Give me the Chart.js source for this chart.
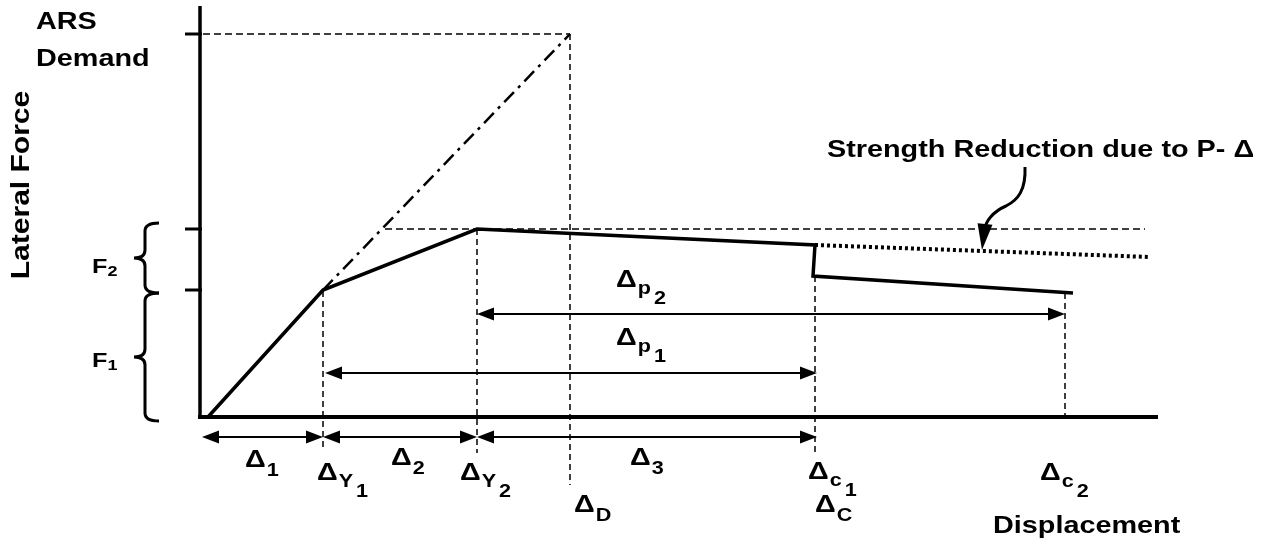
<!DOCTYPE html>
<html>
<head>
<meta charset="utf-8">
<script src="https://cdn.jsdelivr.net/npm/chart.js@4.4.1/dist/chart.umd.min.js"></script>
<style>
  html, body { margin: 0; padding: 0; background: #fff; }
  canvas { display: block; }
</style>
</head>
<body>
<canvas id="chart" width="1278" height="543"></canvas>
<script>
// Кривая несущей способности (перемещение / усилие, условные единицы)
const capacityX = [0.8, 12.3, 27.7, 61.5, 61.3, 87.3];
const capacityF = [0, 12.7, 18.8, 17.2, 14.1, 12.4];

// Снижение прочности из-за P-Δ (пунктир)
const pDeltaX = [61.5, 95.0];
const pDeltaF = [17.2, 16.0];

// Упругий отклик (штрихпунктир) до ARS demand
const elasticX = [12.3, 37.0];
const elasticF = [12.7, 38.3];

// Характерные перемещения
const markNames = ['ΔY1', 'ΔY2', 'ΔD', 'Δc1', 'Δc2'];
const markX = [12.3, 27.7, 37.0, 61.5, 86.5];
const markTop = [12.6, 18.8, 38.3, 14.1, 12.4];
const markBottom = [-3.3, -3.6, -6.8, -3.6, 0.2];

// Уровни усилий на оси
const forceTicks = [12.7, 18.8, 38.3];
const demandF = 38.3;
const f2Level = 18.8;

// Размерные стрелки: [от, до, уровень]
const spanArrows = [
   [0.2, 12.3, -2.0],
   [12.3, 27.7, -2.0],
   [27.7, 61.7, -2.0],
   [12.5, 61.7, 4.4],
   [27.7, 86.5, 10.3]
];

// Фигурные скобки F1 / F2: [низ, верх]
const braces = [[-0.4, 12.4], [12.4, 19.4]];

// Подписи
const deltaLabels = [
   { sub: '1', x: 4.5, y: -5.0 },
   { sub: 'Y', sub2: '1', x: 11.7, y: -6.3 },
   { sub: '2', x: 19.1, y: -4.8 },
   { sub: 'Y', sub2: '2', x: 26.0, y: -6.3 },
   { sub: 'D', x: 37.4, y: -9.5 },
   { sub: '3', x: 43.0, y: -4.8 },
   { sub: 'c', sub2: '1', x: 60.8, y: -6.2 },
   { sub: 'C', x: 61.5, y: -9.5 },
   { sub: 'c', sub2: '2', x: 84.0, y: -6.3 },
   { sub: 'p', sub2: '2', x: 41.6, y: 13.0 },
   { sub: 'p', sub2: '1', x: 41.6, y: 7.2 }
];
const textLabels = [
   { t: 'ARS', x: -16.4, y: 38.8 },
   { t: 'Demand', x: -16.4, y: 35.1 },
   { t: 'Displacement', x: 79.3, y: -11.6 },
   { t: 'Strength Reduction due to P- Δ', x: 62.7, y: 26.0 }
];
const forceLabels = [
   { t: 'F', sub: '2', x: -10.8, y: 14.4 },
   { t: 'F', sub: '1', x: -10.8, y: 5.0 }
];
// Изогнутая стрелка к пунктиру
const curlX = [82.5, 82.6, 81.8, 80.6, 79.2, 78.6, 78.5, 78.2];
const curlY = [25.0, 22.7, 21.7, 21.1, 20.5, 19.5, 18.9, 16.7];

const FONT = '"Liberation Sans", Arial, sans-serif';
const STRETCH = 1.2;

function pts(xs, ys) {
   return xs.map((x, i) => ({ x: x, y: ys[i] }));
}

function line(data, width, dash) {
   return {
      data: data,
      showLine: true,
      borderColor: '#000',
      borderWidth: width,
      borderDash: dash || [],
      pointRadius: 0,
      fill: false,
      clip: false,
      tension: 0
   };
}

const datasets = [];
// оси
datasets.push(line([{ x: -0.2, y: 0 }, { x: 95.8, y: 0 }], 4));
datasets.push(line([{ x: 0, y: -0.1 }, { x: 0, y: 41.1 }], 3.5));
// засечки на оси усилий
forceTicks.forEach(f => datasets.push(line([{ x: -1.5, y: f }, { x: 0.2, y: f }], 3)));
// вспомогательные штриховые линии
datasets.push(line([{ x: 0.3, y: demandF }, { x: elasticX[1], y: demandF }], 1.5, [7, 4]));
datasets.push(line([{ x: 18.5, y: f2Level }, { x: 94.5, y: f2Level }], 1.5, [7, 4]));
markX.forEach((x, i) => datasets.push(line([{ x: x, y: markTop[i] }, { x: x, y: markBottom[i] }], 1.5, [6, 4])));
// упругая линия, P-Δ и основная кривая
datasets.push(line(pts(elasticX, elasticF), 2.5, [14, 6, 3, 6]));
datasets.push(line(pts(pDeltaX, pDeltaF), 4, [3, 3]));
datasets.push(line(pts(capacityX, capacityF), 3.5));

function stretchedText(ctx, str, px, py, size, align) {
   ctx.save();
   ctx.font = 'bold ' + size + 'px ' + FONT;
   const w = ctx.measureText(str).width * STRETCH;
   let x0 = px;
   if (align === 'center') x0 = px - w / 2;
   ctx.translate(x0, py);
   ctx.scale(STRETCH, 1);
   ctx.textBaseline = 'alphabetic';
   ctx.textAlign = 'left';
   ctx.fillText(str, 0, 0);
   ctx.restore();
   return w;
}

function arrowHead(ctx, tipX, tipY, dirX, dirY, len, half) {
   const nx = -dirY, ny = dirX;
   const bx = tipX - dirX * len, by = tipY - dirY * len;
   ctx.beginPath();
   ctx.moveTo(tipX, tipY);
   ctx.lineTo(bx + nx * half, by + ny * half);
   ctx.lineTo(bx - nx * half, by - ny * half);
   ctx.closePath();
   ctx.fill();
}

const annotations = {
   id: 'annotations',
   afterDatasetsDraw(chart) {
      const ctx = chart.ctx;
      const sx = chart.scales.x, sy = chart.scales.y;
      const X = v => sx.getPixelForValue(v);
      const Y = v => sy.getPixelForValue(v);
      ctx.save();
      ctx.fillStyle = '#000';
      ctx.strokeStyle = '#000';

      // размерные стрелки
      spanArrows.forEach(a => {
         const x1 = X(a[0]), x2 = X(a[1]), y = Y(a[2]);
         ctx.lineWidth = 2;
         ctx.beginPath();
         ctx.moveTo(x1 + 10, y);
         ctx.lineTo(x2 - 10, y);
         ctx.stroke();
         arrowHead(ctx, x1, y, -1, 0, 17, 6.5);
         arrowHead(ctx, x2, y, 1, 0, 17, 6.5);
      });

      // фигурные скобки
      ctx.lineWidth = 3;
      braces.forEach(b => {
         const yb = Y(b[0]), yt = Y(b[1]), ym = (yb + yt) / 2;
         const xr = X(-4.1), xs = X(-5.5), xt = X(-6.6);
         const r = 8;
         ctx.beginPath();
         ctx.moveTo(xr, yt);
         ctx.quadraticCurveTo(xs, yt, xs, yt + r);
         ctx.lineTo(xs, ym - r);
         ctx.quadraticCurveTo(xs, ym, xt, ym);
         ctx.quadraticCurveTo(xs, ym, xs, ym + r);
         ctx.lineTo(xs, yb - r);
         ctx.quadraticCurveTo(xs, yb, xr, yb);
         ctx.stroke();
      });

      // изогнутая стрелка
      ctx.lineWidth = 3;
      ctx.beginPath();
      ctx.moveTo(X(curlX[0]), Y(curlY[0]));
      ctx.bezierCurveTo(X(curlX[1]), Y(curlY[1]), X(curlX[2]), Y(curlY[2]), X(curlX[3]), Y(curlY[3]));
      ctx.bezierCurveTo(X(curlX[4]), Y(curlY[4]), X(curlX[5]), Y(curlY[5]), X(curlX[6]), Y(curlY[6]));
      ctx.stroke();
      {
         const bx = X(curlX[6]), by = Y(curlY[6]) - 4, tx = X(curlX[7]), ty = Y(curlY[7]);
         const L = Math.hypot(tx - bx, ty - by);
         arrowHead(ctx, tx, ty, (tx - bx) / L, (ty - by) / L, L, 7.5);
      }

      // подписи Δ
      deltaLabels.forEach(l => {
         const px = X(l.x), py = Y(l.y);
         const w = stretchedText(ctx, 'Δ', px, py, 24);
         if (l.sub2) {
            const w2 = stretchedText(ctx, l.sub, px + w + 1, py + 7, 18);
            stretchedText(ctx, l.sub2, px + w + w2 + 4, py + 17, 18);
         } else {
            stretchedText(ctx, l.sub, px + w + 1, py + 9, 18);
         }
      });

      textLabels.forEach(l => stretchedText(ctx, l.t, X(l.x), Y(l.y), 24));

      forceLabels.forEach(l => {
         const px = X(l.x), py = Y(l.y);
         const w = stretchedText(ctx, l.t, px, py, 21);
         stretchedText(ctx, l.sub, px + w, py + 3, 15);
      });

      // подпись оси усилий
      ctx.save();
      ctx.translate(X(-17.8), Y(23.2));
      ctx.rotate(-Math.PI / 2);
      ctx.font = 'bold 25px ' + FONT;
      ctx.textBaseline = 'middle';
      const lw = ctx.measureText('Lateral Force').width * STRETCH;
      ctx.scale(STRETCH, 1);
      ctx.fillText('Lateral Force', -lw / 2 / STRETCH, 0);
      ctx.restore();

      ctx.restore();
   }
};

new Chart(document.getElementById('chart'), {
   type: 'scatter',
   data: { datasets: datasets },
   options: {
      responsive: false,
      animation: false,
      devicePixelRatio: 1,
      layout: { padding: 0 },
      plugins: {
         legend: { display: false },
         tooltip: { enabled: false }
      },
      scales: {
         x: { type: 'linear', display: false, min: -20, max: 107.8 },
         y: { type: 'linear', display: false, min: -12.6, max: 41.7 }
      }
   },
   plugins: [annotations]
});
</script>
</body>
</html>
